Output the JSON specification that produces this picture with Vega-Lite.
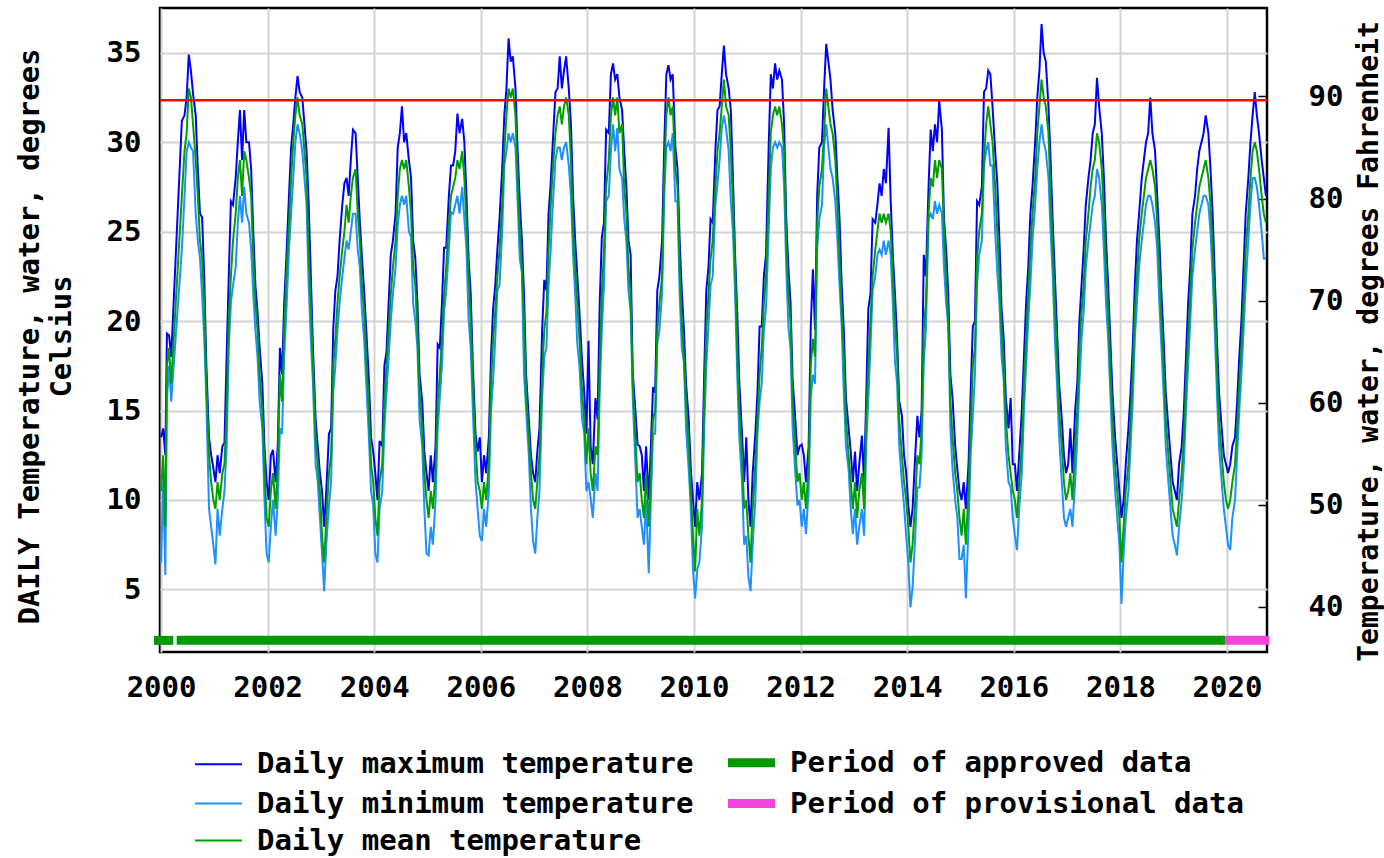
{
"$schema":"https://vega.github.io/schema/vega-lite/v6.json",
"autosize":"none",
"padding":{"left":160,"top":8,"right":117,"bottom":206},
"width":1107,
"height":644,
"background":"white",
"config":{"view":{"stroke":"black","strokeWidth":2.5},"font":"DejaVu Sans Mono",
"axis":{"labelFont":"DejaVu Sans Mono","labelFontWeight":"bold","labelFontSize":29,"labelColor":"black","titleFont":"DejaVu Sans Mono","titleFontWeight":"bold","titleFontSize":29,"titleColor":"black","gridColor":"#d3d3d3","gridWidth":2,"domain":false}},
"datasets":{
"t":[
{"d":2000.0,"a":13.5,"b":6.5,"c":10.5},{"d":2000.04,"a":14,"b":11,"c":12.5},{"d":2000.08,"a":12.5,"b":5.8,"c":8.5},{"d":2000.11,"a":19.3,"b":15.6,"c":17.5},{"d":2000.15,"a":19.2,"b":17.5,"c":18.5},{"d":2000.19,"a":18,"b":15.5,"c":16.5},
{"d":2000.39,"a":31.2,"b":24,"c":27},{"d":2000.44,"a":31.5,"b":27,"c":29.5},{"d":2000.48,"a":32.5,"b":29.5,"c":30.5},{"d":2000.52,"a":34.9,"b":30,"c":33},{"d":2000.56,"a":34,"b":29.7,"c":32.5},{"d":2000.6,"a":32.7,"b":29.5,"c":31},{"d":2000.65,"a":31.5,"b":26,"c":29},{"d":2000.69,"a":28.5,"b":24.5,"c":27},{"d":2000.73,"a":26,"b":23.5,"c":24.5},{"d":2000.77,"a":25.8,"b":21.5,"c":23.5},{"d":2000.81,"a":22.5,"b":19,"c":21},{"d":2000.85,"a":17.5,"b":15.5,"c":16.5},{"d":2000.9,"a":13.5,"b":9.5,"c":12.5},{"d":2000.94,"a":12.5,"b":8.5,"c":11},{"d":2000.98,"a":11.8,"b":7.5,"c":10},
{"d":2001.02,"a":11,"b":6.4,"c":9.5},{"d":2001.06,"a":12.5,"b":9.5,"c":11},{"d":2001.1,"a":11.5,"b":8,"c":10},{"d":2001.15,"a":13,"b":9.5,"c":11.5},{"d":2001.19,"a":13.2,"b":10.5,"c":12},{"d":2001.23,"a":18,"b":13,"c":15},{"d":2001.27,"a":22.5,"b":18.5,"c":20},{"d":2001.31,"a":26.7,"b":21,"c":22.5},{"d":2001.35,"a":26.5,"b":22,"c":24.5},{"d":2001.4,"a":28,"b":23,"c":26},{"d":2001.44,"a":30,"b":25.5,"c":28},{"d":2001.48,"a":31.8,"b":27,"c":29},{"d":2001.52,"a":29,"b":25.5,"c":27},{"d":2001.56,"a":31.8,"b":27.5,"c":29.5},{"d":2001.6,"a":30,"b":26,"c":29},{"d":2001.65,"a":30,"b":25.5,"c":28},{"d":2001.69,"a":28.5,"b":24,"c":27},{"d":2001.73,"a":25,"b":21.5,"c":23.5},{"d":2001.77,"a":22,"b":19.5,"c":21},{"d":2001.81,"a":20.5,"b":18,"c":19.5},{"d":2001.85,"a":18.5,"b":15.5,"c":17},{"d":2001.9,"a":16.5,"b":14,"c":15},{"d":2001.94,"a":13,"b":10,"c":12},{"d":2001.98,"a":11,"b":7,"c":9},
{"d":2002.02,"a":10,"b":6.5,"c":8.5},{"d":2002.06,"a":12.5,"b":8.5,"c":10.5},{"d":2002.1,"a":12.8,"b":10,"c":11.5},{"d":2002.15,"a":11,"b":8,"c":9.5},{"d":2002.19,"a":13.1,"b":10,"c":12},{"d":2002.23,"a":18.5,"b":14,"c":17},{"d":2002.27,"a":17,"b":13.7,"c":15.5},{"d":2002.31,"a":21,"b":18,"c":19.5},{"d":2002.35,"a":23.5,"b":20.5,"c":22.5},{"d":2002.4,"a":27,"b":24,"c":25.5},{"d":2002.44,"a":29.7,"b":26,"c":28},{"d":2002.48,"a":31,"b":28,"c":30},{"d":2002.52,"a":32.5,"b":30,"c":31.5},{"d":2002.56,"a":33.7,"b":31,"c":32.5},{"d":2002.6,"a":32.8,"b":30.5,"c":31.5},{"d":2002.65,"a":32.5,"b":29.5,"c":31},{"d":2002.69,"a":31,"b":28,"c":29.5},{"d":2002.73,"a":29.5,"b":26.5,"c":28},{"d":2002.77,"a":26.5,"b":22,"c":23.5},{"d":2002.81,"a":22.5,"b":19,"c":21},{"d":2002.85,"a":18.5,"b":16.5,"c":17.5},{"d":2002.9,"a":14.5,"b":12,"c":13.5},{"d":2002.94,"a":13,"b":11,"c":12},{"d":2002.98,"a":11.5,"b":9,"c":10.5},
{"d":2003.02,"a":10.5,"b":7,"c":8},{"d":2003.06,"a":8.5,"b":4.9,"c":6.5},{"d":2003.1,"a":10.5,"b":7.5,"c":9},{"d":2003.15,"a":13.7,"b":9.7,"c":11.5},{"d":2003.19,"a":14,"b":11,"c":12.5},{"d":2003.23,"a":19.5,"b":16,"c":17.5},{"d":2003.27,"a":21.7,"b":17.5,"c":19},{"d":2003.31,"a":22.5,"b":19.5,"c":21},{"d":2003.35,"a":24.5,"b":21,"c":22.5},{"d":2003.4,"a":26.5,"b":22.5,"c":24},{"d":2003.44,"a":27.7,"b":23.5,"c":25},{"d":2003.48,"a":28,"b":24.5,"c":26.5},{"d":2003.52,"a":27,"b":24,"c":25.5},{"d":2003.56,"a":29,"b":25,"c":27},{"d":2003.6,"a":30.7,"b":26,"c":28},{"d":2003.65,"a":30.5,"b":26,"c":28.5},{"d":2003.69,"a":28,"b":24,"c":26},{"d":2003.73,"a":25.5,"b":23,"c":24.5},{"d":2003.77,"a":23.5,"b":20.5,"c":22},{"d":2003.81,"a":21.7,"b":19,"c":20.5},{"d":2003.85,"a":19.5,"b":16.5,"c":18},{"d":2003.9,"a":16.7,"b":13.5,"c":15},{"d":2003.94,"a":13.5,"b":10.5,"c":12},{"d":2003.98,"a":12.7,"b":9.7,"c":11},
{"d":2004.02,"a":11.5,"b":7,"c":9},{"d":2004.06,"a":10,"b":6.5,"c":8},{"d":2004.1,"a":13.3,"b":9.5,"c":11},{"d":2004.15,"a":13,"b":10.5,"c":12},{"d":2004.19,"a":17.5,"b":14,"c":15.5},{"d":2004.23,"a":18.3,"b":16,"c":17.5},{"d":2004.27,"a":21,"b":18,"c":19.5},{"d":2004.31,"a":23.7,"b":20,"c":21.5},{"d":2004.35,"a":24.5,"b":21.5,"c":23},{"d":2004.4,"a":26,"b":23,"c":24.5},{"d":2004.44,"a":29.7,"b":25.3,"c":27},{"d":2004.48,"a":30.5,"b":26.5,"c":28.5},{"d":2004.52,"a":32,"b":27,"c":29},{"d":2004.56,"a":30,"b":26.5,"c":28.5},{"d":2004.6,"a":30.5,"b":27,"c":29},{"d":2004.65,"a":29,"b":25,"c":27.5},{"d":2004.69,"a":28,"b":24.7,"c":26},{"d":2004.73,"a":24.5,"b":21,"c":23},{"d":2004.77,"a":23.5,"b":20,"c":22},{"d":2004.81,"a":21,"b":18.5,"c":19.5},{"d":2004.85,"a":17,"b":14.5,"c":16},{"d":2004.9,"a":15.5,"b":13,"c":14},{"d":2004.94,"a":12.7,"b":9.5,"c":11.5},{"d":2004.98,"a":11.5,"b":7,"c":10},
{"d":2005.02,"a":10.5,"b":6.9,"c":9},{"d":2005.06,"a":12.5,"b":8.5,"c":10.5},{"d":2005.1,"a":11,"b":7.5,"c":9.5},{"d":2005.15,"a":13,"b":10,"c":11.5},{"d":2005.19,"a":18.7,"b":14,"c":15.5},{"d":2005.23,"a":18.5,"b":15.7,"c":17},{"d":2005.27,"a":21,"b":17.5,"c":19},{"d":2005.31,"a":24.1,"b":20.5,"c":21.5},{"d":2005.35,"a":24.1,"b":21.7,"c":23},{"d":2005.4,"a":27,"b":24,"c":25.5},{"d":2005.44,"a":28.7,"b":26.1,"c":27},{"d":2005.48,"a":28.7,"b":26,"c":27.5},{"d":2005.52,"a":29.5,"b":26.5,"c":28},{"d":2005.56,"a":31.6,"b":27,"c":29},{"d":2005.6,"a":30.5,"b":26,"c":28.5},{"d":2005.65,"a":31.3,"b":27.5,"c":29.5},{"d":2005.69,"a":30,"b":25.7,"c":28},{"d":2005.73,"a":27,"b":24,"c":25.5},{"d":2005.77,"a":23.5,"b":20.1,"c":22.5},{"d":2005.81,"a":21.5,"b":18.5,"c":20},{"d":2005.85,"a":17.5,"b":15,"c":16.5},{"d":2005.9,"a":13.7,"b":11,"c":13},{"d":2005.94,"a":12.7,"b":9.5,"c":11},{"d":2005.98,"a":13.5,"b":8,"c":10.5},
{"d":2006.02,"a":11,"b":7.7,"c":9.5},{"d":2006.06,"a":12.5,"b":9.5,"c":11},{"d":2006.1,"a":11.5,"b":8.5,"c":10},{"d":2006.15,"a":13.5,"b":10.5,"c":12},{"d":2006.19,"a":18,"b":15,"c":16.5},{"d":2006.23,"a":20.7,"b":16.7,"c":19},{"d":2006.27,"a":22,"b":19,"c":20.5},{"d":2006.31,"a":24,"b":21.7,"c":22.5},{"d":2006.35,"a":25.7,"b":22,"c":24},{"d":2006.4,"a":28.5,"b":25,"c":26.5},{"d":2006.44,"a":31.5,"b":28.7,"c":29.5},{"d":2006.48,"a":33,"b":29.5,"c":31.5},{"d":2006.52,"a":35.8,"b":30.5,"c":33},{"d":2006.56,"a":34.5,"b":30,"c":32.5},{"d":2006.6,"a":34.8,"b":30.5,"c":33},{"d":2006.65,"a":33,"b":29.7,"c":31.5},{"d":2006.69,"a":29.5,"b":26.7,"c":28},{"d":2006.73,"a":26.7,"b":23.5,"c":25},{"d":2006.77,"a":24.5,"b":22.7,"c":23},{"d":2006.81,"a":21.5,"b":17,"c":20},{"d":2006.85,"a":17,"b":15,"c":16},{"d":2006.9,"a":14.5,"b":12.5,"c":13.5},{"d":2006.94,"a":12.5,"b":9.5,"c":11.5},{"d":2006.98,"a":11.5,"b":7.7,"c":10},
{"d":2007.02,"a":11,"b":7,"c":9.5},{"d":2007.06,"a":12.7,"b":9,"c":11},{"d":2007.1,"a":14,"b":10.5,"c":12.5},{"d":2007.15,"a":19.5,"b":15.7,"c":17},{"d":2007.19,"a":22.3,"b":18,"c":19.5},{"d":2007.23,"a":21.7,"b":18.5,"c":20.5},{"d":2007.27,"a":26,"b":22,"c":24},{"d":2007.31,"a":27.7,"b":24,"c":26.5},{"d":2007.35,"a":30,"b":26.5,"c":28.5},{"d":2007.4,"a":32.8,"b":29,"c":30.5},{"d":2007.44,"a":33,"b":29.7,"c":31.5},{"d":2007.48,"a":34.8,"b":29.7,"c":32},{"d":2007.52,"a":33,"b":29,"c":31},{"d":2007.56,"a":34,"b":29.7,"c":32},{"d":2007.6,"a":34.8,"b":30,"c":32.5},{"d":2007.65,"a":33,"b":28.7,"c":31.5},{"d":2007.69,"a":31,"b":27,"c":29},{"d":2007.73,"a":27,"b":23.7,"c":25},{"d":2007.77,"a":24.5,"b":21.5,"c":23},{"d":2007.81,"a":22.5,"b":18.7,"c":21},{"d":2007.85,"a":20.5,"b":17.5,"c":19},{"d":2007.9,"a":17.7,"b":14.5,"c":16},{"d":2007.94,"a":16,"b":13.7,"c":14.5},{"d":2007.98,"a":13.7,"b":10.5,"c":12},
{"d":2008.02,"a":18.9,"b":11,"c":14},{"d":2008.06,"a":13,"b":10.1,"c":11.5},{"d":2008.1,"a":12,"b":9,"c":10.5},{"d":2008.15,"a":15.7,"b":11.5,"c":13},{"d":2008.19,"a":14.5,"b":10.5,"c":12.5},{"d":2008.23,"a":21,"b":16,"c":17.5},{"d":2008.27,"a":24.7,"b":19.5,"c":21.5},{"d":2008.31,"a":25.5,"b":22,"c":24},{"d":2008.35,"a":30.7,"b":26.7,"c":27.5},{"d":2008.4,"a":30.5,"b":27,"c":29},{"d":2008.44,"a":33.8,"b":29.5,"c":31.5},{"d":2008.48,"a":34.4,"b":31,"c":32.5},{"d":2008.52,"a":33.5,"b":29.5,"c":31.5},{"d":2008.56,"a":33.8,"b":30.8,"c":32.5},{"d":2008.6,"a":32.5,"b":28.5,"c":30.5},{"d":2008.65,"a":31.8,"b":28,"c":31},{"d":2008.69,"a":29.5,"b":25.7,"c":27.5},{"d":2008.73,"a":27.5,"b":24.5,"c":26},{"d":2008.77,"a":24.5,"b":21.7,"c":23},{"d":2008.81,"a":23.7,"b":20.5,"c":21.5},{"d":2008.85,"a":17.1,"b":15.7,"c":16.5},{"d":2008.9,"a":15,"b":12,"c":13.5},{"d":2008.94,"a":13.1,"b":9,"c":11},{"d":2008.98,"a":13,"b":9.5,"c":11.5},
{"d":2009.02,"a":12.5,"b":8.5,"c":10},{"d":2009.06,"a":10.5,"b":7.5,"c":9},{"d":2009.1,"a":13,"b":10,"c":11.5},{"d":2009.15,"a":10,"b":5.9,"c":8.5},{"d":2009.19,"a":13,"b":10,"c":11.5},{"d":2009.23,"a":16.3,"b":13.7,"c":14.5},{"d":2009.27,"a":16,"b":13.7,"c":15},{"d":2009.31,"a":21.7,"b":18.7,"c":19.5},{"d":2009.35,"a":22.5,"b":19.5,"c":21},{"d":2009.4,"a":24.5,"b":21.5,"c":22.5},{"d":2009.44,"a":29.7,"b":27,"c":28},{"d":2009.48,"a":33.8,"b":29.7,"c":31.5},{"d":2009.52,"a":34.3,"b":30,"c":32.5},{"d":2009.56,"a":33.5,"b":29.5,"c":31.5},{"d":2009.6,"a":33.8,"b":30.5,"c":32},{"d":2009.65,"a":29.7,"b":26.7,"c":28.5},{"d":2009.69,"a":28.5,"b":26.7,"c":27.5},{"d":2009.73,"a":24.5,"b":21.5,"c":23},{"d":2009.77,"a":21.7,"b":18.5,"c":20},{"d":2009.81,"a":19.5,"b":17.7,"c":18},{"d":2009.85,"a":16.5,"b":14,"c":15.5},{"d":2009.9,"a":14.5,"b":11.7,"c":13},{"d":2009.94,"a":11.7,"b":9.5,"c":10.5},{"d":2009.98,"a":10,"b":6.1,"c":8},
{"d":2010.02,"a":8.5,"b":4.5,"c":6},{"d":2010.06,"a":11,"b":6.1,"c":9.5},{"d":2010.1,"a":10,"b":6.5,"c":8},{"d":2010.15,"a":11.5,"b":8.5,"c":10},{"d":2010.19,"a":17,"b":14,"c":15.5},{"d":2010.23,"a":21.7,"b":17.5,"c":19.5},{"d":2010.27,"a":23,"b":19.7,"c":21.5},{"d":2010.31,"a":25.7,"b":22,"c":23.5},{"d":2010.35,"a":25.5,"b":22.5,"c":24.5},{"d":2010.4,"a":29.5,"b":26.5,"c":27.5},{"d":2010.44,"a":31.8,"b":27.7,"c":29.5},{"d":2010.48,"a":32,"b":29,"c":30.5},{"d":2010.52,"a":33.8,"b":30.8,"c":32},{"d":2010.56,"a":35.4,"b":31.5,"c":33.5},{"d":2010.6,"a":33.8,"b":30.8,"c":32},{"d":2010.65,"a":33,"b":29.5,"c":31.5},{"d":2010.69,"a":31.8,"b":26.7,"c":29.5},{"d":2010.73,"a":28,"b":25,"c":26.5},{"d":2010.77,"a":23.7,"b":21.5,"c":23},{"d":2010.81,"a":20.5,"b":17,"c":18.5},{"d":2010.85,"a":16.5,"b":13.5,"c":15},{"d":2010.9,"a":13.7,"b":11,"c":12.5},{"d":2010.94,"a":11,"b":7.5,"c":9.5},{"d":2010.98,"a":13.5,"b":8,"c":10},
{"d":2011.02,"a":10,"b":5.7,"c":8},{"d":2011.06,"a":8.5,"b":4.9,"c":6.5},{"d":2011.1,"a":11.5,"b":7.5,"c":9.5},{"d":2011.15,"a":13.7,"b":10,"c":12},{"d":2011.19,"a":16,"b":13.7,"c":14.5},{"d":2011.23,"a":19.7,"b":15.5,"c":17},{"d":2011.27,"a":19.7,"b":16.5,"c":18.5},{"d":2011.31,"a":22.5,"b":19.5,"c":21},{"d":2011.35,"a":23.7,"b":20.7,"c":22.5},{"d":2011.4,"a":29.7,"b":25,"c":27},{"d":2011.44,"a":33.8,"b":28.5,"c":30.5},{"d":2011.48,"a":33,"b":29.7,"c":31.5},{"d":2011.52,"a":34.4,"b":30,"c":32},{"d":2011.56,"a":33.5,"b":29.7,"c":31.5},{"d":2011.6,"a":34,"b":30,"c":32},{"d":2011.65,"a":33.5,"b":29.7,"c":31},{"d":2011.69,"a":31,"b":27.5,"c":29.5},{"d":2011.73,"a":25.7,"b":23,"c":24.5},{"d":2011.77,"a":23,"b":19.7,"c":21.5},{"d":2011.81,"a":21,"b":18.5,"c":20},{"d":2011.85,"a":16.7,"b":14,"c":15.5},{"d":2011.9,"a":14.5,"b":11.5,"c":13},{"d":2011.94,"a":12.5,"b":9.7,"c":11},{"d":2011.98,"a":13,"b":10,"c":11.5},
{"d":2012.02,"a":13.1,"b":8.5,"c":10},{"d":2012.06,"a":12.5,"b":9.5,"c":11},{"d":2012.1,"a":11,"b":8.1,"c":9.5},{"d":2012.15,"a":13,"b":10.5,"c":12},{"d":2012.19,"a":19.7,"b":15.7,"c":17.5},{"d":2012.23,"a":22.9,"b":17,"c":19},{"d":2012.27,"a":19.5,"b":16.5,"c":18},{"d":2012.31,"a":27,"b":24,"c":25.5},{"d":2012.35,"a":29.7,"b":25.7,"c":27.5},{"d":2012.4,"a":30,"b":26.5,"c":28.5},{"d":2012.44,"a":33,"b":29.7,"c":30.5},{"d":2012.48,"a":35.5,"b":31,"c":33},{"d":2012.52,"a":34.5,"b":29.7,"c":32},{"d":2012.56,"a":33.5,"b":28.5,"c":31},{"d":2012.6,"a":31.8,"b":28,"c":30.5},{"d":2012.65,"a":30.5,"b":26.7,"c":29},{"d":2012.69,"a":28,"b":24.5,"c":26.5},{"d":2012.73,"a":25.7,"b":22,"c":23.5},{"d":2012.77,"a":22,"b":19.7,"c":20.5},{"d":2012.81,"a":19.5,"b":16,"c":18},{"d":2012.85,"a":15.7,"b":13,"c":14.5},{"d":2012.9,"a":14,"b":11.7,"c":12.5},{"d":2012.94,"a":12.7,"b":9.5,"c":11},{"d":2012.98,"a":11,"b":8.1,"c":9.5},
{"d":2013.02,"a":12.7,"b":9.5,"c":11},{"d":2013.06,"a":10.5,"b":7.5,"c":9},{"d":2013.1,"a":12,"b":8.5,"c":10.5},{"d":2013.15,"a":13.6,"b":9.5,"c":11.5},{"d":2013.19,"a":11,"b":8,"c":9.5},{"d":2013.23,"a":15.7,"b":13,"c":14.5},{"d":2013.27,"a":20.7,"b":15.7,"c":17.5},{"d":2013.31,"a":21.5,"b":18.5,"c":20},{"d":2013.35,"a":25.7,"b":21.7,"c":22.5},{"d":2013.4,"a":25.5,"b":22.5,"c":24},{"d":2013.44,"a":26.5,"b":23.7,"c":25},{"d":2013.48,"a":27.7,"b":24,"c":26},{"d":2013.52,"a":27,"b":23.7,"c":25.5},{"d":2013.56,"a":28.5,"b":24.5,"c":26},{"d":2013.6,"a":27.7,"b":23.7,"c":25.5},{"d":2013.65,"a":30.8,"b":24.5,"c":26},{"d":2013.69,"a":26.7,"b":23.7,"c":25},{"d":2013.73,"a":23.7,"b":21,"c":22.5},{"d":2013.77,"a":21.5,"b":17.7,"c":20},{"d":2013.81,"a":19,"b":16.5,"c":18},{"d":2013.85,"a":15.5,"b":13,"c":14.5},{"d":2013.9,"a":14.7,"b":11,"c":12.5},{"d":2013.94,"a":12.5,"b":9.7,"c":11},{"d":2013.98,"a":11.5,"b":8,"c":10},
{"d":2014.02,"a":9.7,"b":6.5,"c":8.5},{"d":2014.06,"a":8.5,"b":4,"c":6.5},{"d":2014.1,"a":9.5,"b":5.1,"c":7.5},{"d":2014.15,"a":12.5,"b":8,"c":10},{"d":2014.19,"a":14.7,"b":10.7,"c":12.5},{"d":2014.23,"a":13.5,"b":10.7,"c":12},{"d":2014.27,"a":15,"b":12.5,"c":14},{"d":2014.31,"a":23.7,"b":17.7,"c":19.5},{"d":2014.35,"a":22.5,"b":19.5,"c":21},{"d":2014.4,"a":27.5,"b":25.7,"c":26},{"d":2014.44,"a":30.7,"b":26,"c":28},{"d":2014.48,"a":29.5,"b":25.7,"c":27.5},{"d":2014.52,"a":31,"b":26.7,"c":29},{"d":2014.56,"a":30,"b":26,"c":28},{"d":2014.6,"a":32.3,"b":26.5,"c":29},{"d":2014.65,"a":30.7,"b":26,"c":28.5},{"d":2014.69,"a":25.7,"b":23,"c":25},{"d":2014.73,"a":24,"b":21,"c":22.5},{"d":2014.77,"a":21.5,"b":19.7,"c":20},{"d":2014.81,"a":17,"b":14,"c":15.5},{"d":2014.85,"a":15.7,"b":11.7,"c":13.5},{"d":2014.9,"a":13,"b":10,"c":11.5},{"d":2014.94,"a":11.7,"b":9,"c":10.5},{"d":2014.98,"a":10.5,"b":6.7,"c":9},
{"d":2015.02,"a":10,"b":6.7,"c":8},{"d":2015.06,"a":11,"b":7.5,"c":9.5},{"d":2015.1,"a":9.5,"b":4.5,"c":7.5},{"d":2015.15,"a":12,"b":8.5,"c":10.5},{"d":2015.19,"a":16,"b":12.5,"c":14},{"d":2015.23,"a":19.7,"b":14.7,"c":17.5},{"d":2015.27,"a":20,"b":17,"c":18.5},{"d":2015.31,"a":26.7,"b":22,"c":23.5},{"d":2015.35,"a":26.5,"b":23.7,"c":25},{"d":2015.4,"a":27.5,"b":24.5,"c":26},{"d":2015.44,"a":32.8,"b":28.7,"c":29},{"d":2015.48,"a":33,"b":29.5,"c":31},{"d":2015.52,"a":34,"b":30,"c":32},{"d":2015.56,"a":33.8,"b":28.7,"c":31},{"d":2015.6,"a":32,"b":28.7,"c":30},{"d":2015.65,"a":29.5,"b":25,"c":27.5},{"d":2015.69,"a":27.7,"b":22.7,"c":25},{"d":2015.73,"a":24.5,"b":21,"c":22.5},{"d":2015.77,"a":20.7,"b":18,"c":19.5},{"d":2015.81,"a":19,"b":16.7,"c":17.5},{"d":2015.85,"a":15.7,"b":13,"c":14.5},{"d":2015.9,"a":14,"b":11,"c":12.5},{"d":2015.94,"a":15.7,"b":10.7,"c":11.5},{"d":2015.98,"a":12,"b":9,"c":10.5},
{"d":2016.02,"a":12,"b":8,"c":10},{"d":2016.06,"a":10.5,"b":7.2,"c":9},{"d":2016.1,"a":12.5,"b":9.5,"c":11},{"d":2016.15,"a":15,"b":11.5,"c":13},{"d":2016.19,"a":18,"b":15,"c":16.5},{"d":2016.23,"a":21,"b":17.5,"c":19},{"d":2016.27,"a":23,"b":20,"c":21.5},{"d":2016.31,"a":26,"b":22,"c":24},{"d":2016.35,"a":27.5,"b":24.5,"c":26},{"d":2016.4,"a":30,"b":26.5,"c":28},{"d":2016.44,"a":32.5,"b":28.5,"c":30.5},{"d":2016.48,"a":34,"b":30,"c":32},{"d":2016.52,"a":36.6,"b":31,"c":33.5},{"d":2016.56,"a":35,"b":30,"c":32.5},{"d":2016.6,"a":34.5,"b":29.5,"c":32},{"d":2016.65,"a":32,"b":28,"c":30.5},{"d":2016.69,"a":29,"b":25,"c":27},{"d":2016.73,"a":25.5,"b":22.5,"c":24},{"d":2016.77,"a":22.5,"b":19,"c":21},{"d":2016.81,"a":19.5,"b":16.5,"c":18},{"d":2016.85,"a":16.5,"b":13.5,"c":15},{"d":2016.9,"a":14.5,"b":11,"c":13},{"d":2016.94,"a":12.5,"b":9,"c":11},{"d":2016.98,"a":11.5,"b":8.5,"c":10},
{"d":2017.02,"a":12,"b":9,"c":10.5},{"d":2017.06,"a":14,"b":9.5,"c":11.5},{"d":2017.1,"a":11.5,"b":8.5,"c":10},{"d":2017.15,"a":15,"b":11,"c":13},{"d":2017.19,"a":16.5,"b":13.5,"c":15},{"d":2017.23,"a":20,"b":16.5,"c":18.5},{"d":2017.27,"a":22,"b":19,"c":20.5},{"d":2017.31,"a":24,"b":20.5,"c":22},{"d":2017.35,"a":26.5,"b":23,"c":24.5},{"d":2017.4,"a":28,"b":24.5,"c":26},{"d":2017.44,"a":29,"b":25.5,"c":27.5},{"d":2017.48,"a":30.5,"b":26.5,"c":28.5},{"d":2017.52,"a":31,"b":27,"c":29},{"d":2017.56,"a":33.6,"b":28.5,"c":30.5},{"d":2017.6,"a":32,"b":28,"c":30},{"d":2017.65,"a":30.5,"b":26.5,"c":28.5},{"d":2017.69,"a":28,"b":24,"c":26},{"d":2017.73,"a":24.5,"b":21,"c":23},{"d":2017.77,"a":22,"b":19,"c":20.5},{"d":2017.81,"a":19,"b":16,"c":17.5},{"d":2017.85,"a":16,"b":13,"c":14.5},{"d":2017.9,"a":13.5,"b":10.5,"c":12},{"d":2017.94,"a":12,"b":9,"c":10.5},{"d":2017.98,"a":10.5,"b":7.5,"c":9},
{"d":2018.02,"a":9,"b":4.2,"c":6.5},{"d":2018.06,"a":10,"b":7,"c":8.5},{"d":2018.1,"a":12,"b":9,"c":10.5},{"d":2018.15,"a":14,"b":10.5,"c":12},{"d":2018.19,"a":16,"b":13,"c":14.5},{"d":2018.23,"a":18.5,"b":15.5,"c":17},{"d":2018.27,"a":22,"b":19,"c":20.5},{"d":2018.31,"a":24.5,"b":21,"c":22.5},{"d":2018.35,"a":26,"b":23,"c":24.5},{"d":2018.4,"a":28,"b":24.5,"c":26},{"d":2018.44,"a":29,"b":25.5,"c":27},{"d":2018.48,"a":30,"b":26.5,"c":28},{"d":2018.52,"a":30.5,"b":27,"c":28.5},{"d":2018.56,"a":32.5,"b":27,"c":29},{"d":2018.6,"a":30.5,"b":26.5,"c":28.5},{"d":2018.65,"a":29.5,"b":25.5,"c":27.5},{"d":2018.69,"a":27,"b":24,"c":25.5},{"d":2018.73,"a":24.5,"b":21,"c":23},{"d":2018.77,"a":21.5,"b":18.5,"c":20},{"d":2018.81,"a":19,"b":16,"c":17.5},{"d":2018.85,"a":16,"b":13,"c":14.5},{"d":2018.9,"a":14,"b":11,"c":12.5},{"d":2018.94,"a":12.5,"b":9.5,"c":11},{"d":2018.98,"a":11,"b":8,"c":9.5},
{"d":2019.02,"a":10.5,"b":7.5,"c":9},{"d":2019.06,"a":10,"b":6.9,"c":8.5},{"d":2019.1,"a":12,"b":8.5,"c":10},{"d":2019.15,"a":13,"b":10,"c":11.5},{"d":2019.19,"a":15,"b":12,"c":13.5},{"d":2019.23,"a":18,"b":15,"c":16.5},{"d":2019.27,"a":21,"b":17.5,"c":19},{"d":2019.31,"a":23,"b":20,"c":21.5},{"d":2019.35,"a":26,"b":22.5,"c":24},{"d":2019.4,"a":27,"b":24,"c":25.5},{"d":2019.44,"a":28.5,"b":25,"c":26.5},{"d":2019.48,"a":29.5,"b":26,"c":27.5},{"d":2019.52,"a":30,"b":26.5,"c":28},{"d":2019.56,"a":30.5,"b":27,"c":28.5},{"d":2019.6,"a":31.5,"b":27,"c":29},{"d":2019.65,"a":30.5,"b":26.5,"c":28},{"d":2019.69,"a":28.5,"b":25,"c":26.5},{"d":2019.73,"a":26,"b":22.5,"c":24},{"d":2019.77,"a":22.5,"b":19.5,"c":21},{"d":2019.81,"a":19,"b":16,"c":17.5},{"d":2019.85,"a":16,"b":13,"c":14.5},{"d":2019.9,"a":14,"b":11,"c":12.5},{"d":2019.94,"a":12.5,"b":9.5,"c":11},{"d":2019.98,"a":12,"b":8.5,"c":10},
{"d":2020.02,"a":11.5,"b":7.5,"c":9.5},{"d":2020.06,"a":12,"b":7.2,"c":10},{"d":2020.1,"a":13,"b":9,"c":11},{"d":2020.15,"a":13.5,"b":10,"c":12},{"d":2020.19,"a":15.5,"b":12.5,"c":14},{"d":2020.23,"a":18,"b":15,"c":16.5},{"d":2020.27,"a":20,"b":17,"c":18.5},{"d":2020.31,"a":23,"b":19.5,"c":21},{"d":2020.35,"a":26,"b":22,"c":24},{"d":2020.4,"a":28,"b":24.5,"c":26},{"d":2020.44,"a":30,"b":26.5,"c":28},{"d":2020.48,"a":31.5,"b":28,"c":29.5},{"d":2020.52,"a":32.8,"b":28,"c":30},{"d":2020.56,"a":31.5,"b":27.5,"c":29.5},{"d":2020.6,"a":30.5,"b":26.5,"c":28.5},{"d":2020.65,"a":29,"b":25,"c":27},{"d":2020.69,"a":28,"b":23.5,"c":26},{"d":2020.73,"a":27,"b":23.5,"c":25.5}
],
"p":[
{"s":"p","x1":1999.867,"x2":2000.229},
{"s":"p","x1":2000.293,"x2":2019.968},
{"s":"q","x1":2019.968,"x2":2020.794}
]},
"layer":[
{"layer":[
{"data":{"name":"t"},
 "transform":[{"fold":["a","b","c"],"as":["s","v"]}],
 "mark":{"type":"line","strokeWidth":2,"interpolate":"linear"},
 "encoding":{
  "x":{"field":"d","type":"quantitative","scale":{"domain":[1999.98,2020.75],"nice":false,"zero":false},
       "axis":{"values":[2000,2002,2004,2006,2008,2010,2012,2014,2016,2018,2020],"format":"d","title":null,"ticks":false,"labelPadding":21,"grid":true}},
  "y":{"field":"v","type":"quantitative","scale":{"domain":[1.5,37.5],"nice":false,"zero":false},
       "axis":{"values":[5,10,15,20,25,30,35],"title":["DAILY Temperature, water, degrees","Celsius"],"titleLineHeight":32,"titlePadding":30,"titleY":328,"ticks":false,"labelPadding":19,"grid":true}},
  "color":{"field":"s","type":"nominal","scale":{"domain":["a","b","c","p","q"],"range":["#0000FF","#1E90FF","#00A000","#009900","#F044DC"]},
   "legend":{"title":null,"orient":"none","legendX":44,"legendY":740,"columns":2,"columnPadding":16,"rowPadding":4,
     "symbolType":"stroke","symbolSize":2209,"symbolStrokeWidth":2,"labelOffset":24,"labelLimit":700,
     "labelFont":"DejaVu Sans Mono","labelFontWeight":"bold","labelFontSize":29,"labelColor":"black",
     "labelExpr":"datum.label=='a'?'Daily maximum temperature':datum.label=='b'?'Daily minimum temperature':datum.label=='c'?'Daily mean temperature':datum.label=='p'?'Period of approved data':'Period of provisional data'",
     "encode":{"symbols":{"update":{"strokeWidth":{"signal":"(datum.value=='p'||datum.value=='q')?9:2"}}}}}}
 }},
{"data":{"name":"p"},
 "mark":{"type":"rule","strokeWidth":9,"strokeCap":"butt"},
 "encoding":{"x":{"field":"x1","type":"quantitative"},"x2":{"field":"x2"},"y":{"datum":2.15},"color":{"field":"s","type":"nominal"}}},
{"data":{"values":[{}]},
 "mark":{"type":"rule","color":"#FF0000","strokeWidth":2.5},
 "encoding":{"y":{"datum":32.35}}}
]},
{"data":{"values":[{}]},
 "mark":{"type":"rule","strokeOpacity":0},
 "encoding":{"y":{"datum":90,"type":"quantitative","scale":{"domain":[35.59,98.66],"nice":false,"zero":false},
   "axis":{"orient":"right","values":[40,50,60,70,80,90],"grid":false,"tickSize":-9,"tickColor":"black","tickWidth":1.5,"labelPadding":50,"title":"Temperature, water, degrees Fahrenheit","titleFontSize":28,"titleAngle":270,"titleY":333,"titlePadding":41}}}}
],
"resolve":{"scale":{"y":"independent"},"axis":{"y":"independent"}}
}
